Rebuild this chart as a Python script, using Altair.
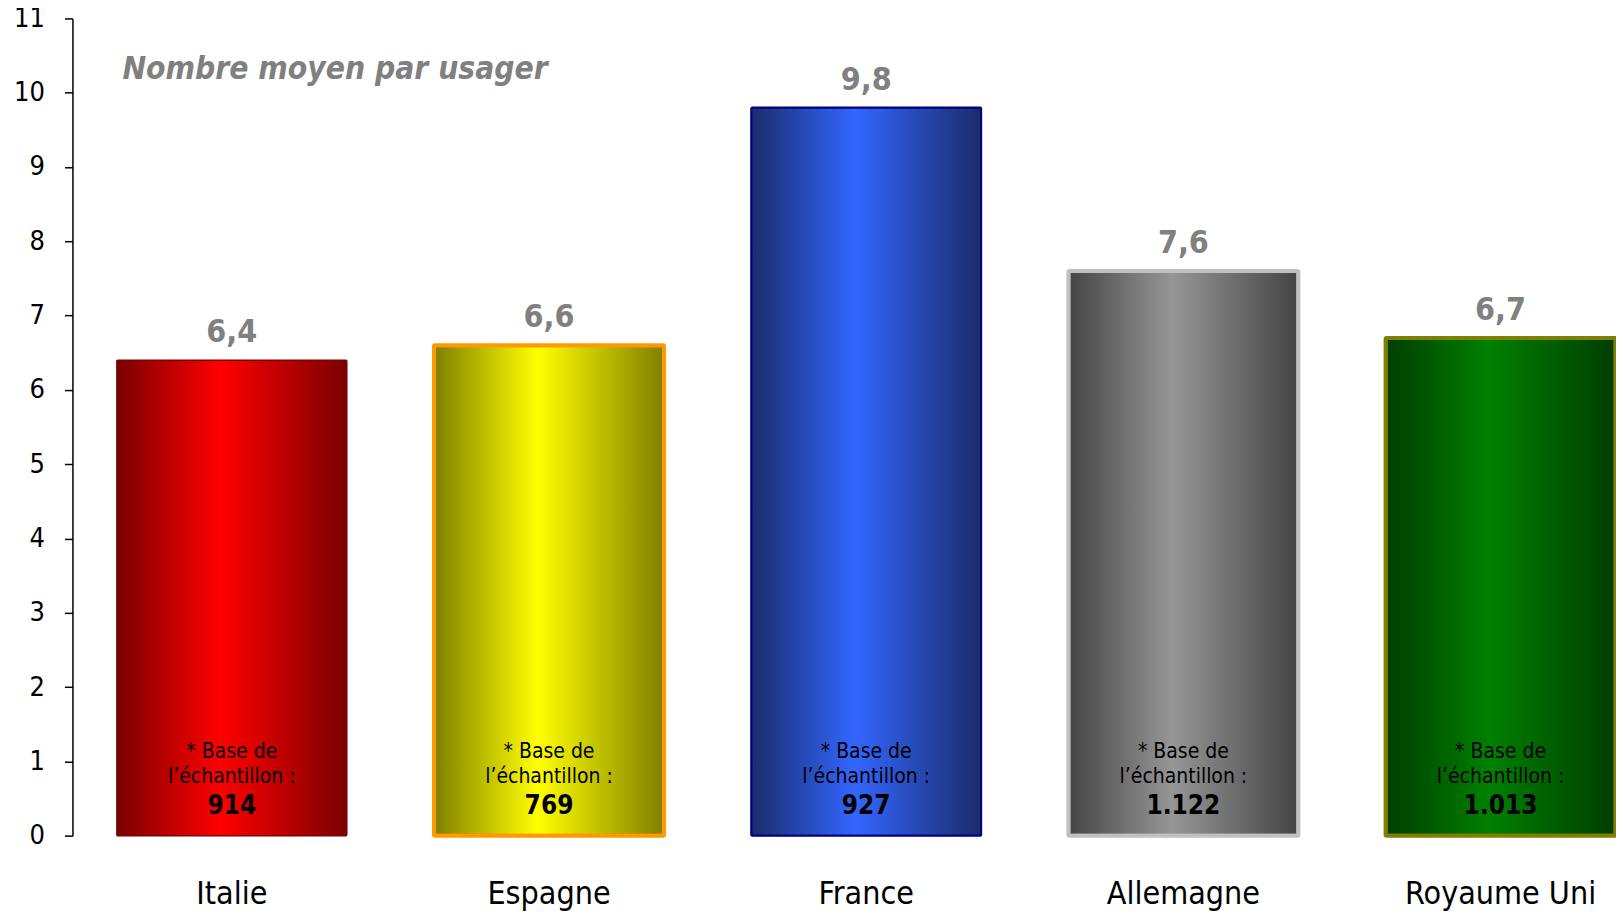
import altair as alt
import pandas as pd

countries = ["Italie", "Espagne", "France", "Allemagne", "Royaume Uni"]
values = [6.4, 6.6, 9.8, 7.6, 6.7]
bases = ["914", "769", "927", "1.122", "1.013"]
edge_colors = ["#7a0000", "#7f7f00", "#1a2c6b", "#444444", "#003d00"]
mid_colors = ["#ff0000", "#ffff00", "#3366ff", "#969696", "#008000"]
stroke_colors = ["#800000", "#ff9900", "#000080", "#c0c0c0", "#808000"]
stroke_widths = [1.5, 4, 2, 4, 4]
title_text = "Nombre moyen par usager"

df = pd.DataFrame({"pays": countries, "valeur": values, "base": bases})

FONT = "DejaVu Sans Condensed, DejaVu Sans"

x_enc = alt.X(
    "pays:N",
    scale=alt.Scale(domain=countries, range=[0, 1589], paddingInner=0.275, paddingOuter=0.14),
    axis=alt.Axis(title=None, labelAngle=0, domain=False, ticks=False, labelFontSize=32,
                  labelFont=FONT, labelColor="#000000", labelPadding=43, labelLimit=0),
)
y_enc = alt.Y(
    "valeur:Q",
    scale=alt.Scale(domain=[0, 11], nice=False),
    axis=alt.Axis(title=None, values=list(range(0, 12)), format="d", grid=False, domainColor="#000000",
                  domainWidth=1.5, tickColor="#000000", tickSize=8, tickWidth=1.5,
                  labelFontSize=27, labelFont=FONT, labelColor="#000000", labelPadding=20),
)

base = alt.Chart(df)
layers = []
for i, c in enumerate(countries):
    grad = alt.Gradient(
        gradient="linear", x1=0, x2=1, y1=0, y2=0,
        stops=[
            alt.GradientStop(color=edge_colors[i], offset=0),
            alt.GradientStop(color=mid_colors[i], offset=0.45),
            alt.GradientStop(color=edge_colors[i], offset=1),
        ],
    )
    layers.append(
        base.transform_filter(alt.datum.pays == c)
        .mark_bar(fill=grad, stroke=stroke_colors[i], strokeWidth=stroke_widths[i], cornerRadius=1)
        .encode(x=x_enc, y=y_enc)
    )

value_labels = base.transform_calculate(
    lab="replace(format(datum.valeur, '.1f'), '.', ',')"
).mark_text(font=FONT, fontSize=32, fontWeight="bold", color="#808080",
            baseline="alphabetic", dy=-18).encode(x=x_enc, y=y_enc, text="lab:N")

line1 = base.mark_text(font=FONT, fontSize=21, color="#000000", baseline="middle", dy=-84).encode(
    x=x_enc, y=alt.datum(0), text=alt.value("* Base de"))
line2 = base.mark_text(font=FONT, fontSize=21, color="#000000", baseline="middle", dy=-59).encode(
    x=x_enc, y=alt.datum(0), text=alt.value("l’échantillon :"))
line3 = base.mark_text(font=FONT, fontSize=26, fontWeight="bold", color="#000000", baseline="middle", dy=-30).encode(
    x=x_enc, y=alt.datum(0), text="base:N")

title = alt.Chart(pd.DataFrame({"t": [title_text]})).mark_text(
    font=FONT, fontSize=31.5, fontWeight="bold", fontStyle="italic", color="#808080",
    align="left", baseline="middle").encode(x=alt.value(50), y=alt.value(52), text="t:N")

chart = alt.layer(*layers, value_labels, line1, line2, line3, title).properties(
    width=1545, height=818,
    autosize=alt.AutoSizeParams(type="none"),
    padding={"left": 64.5, "top": 10, "right": 0, "bottom": 79},
).configure_view(stroke=None)

chart.save("out.html", embed_options={"renderer": "svg", "actions": False})
